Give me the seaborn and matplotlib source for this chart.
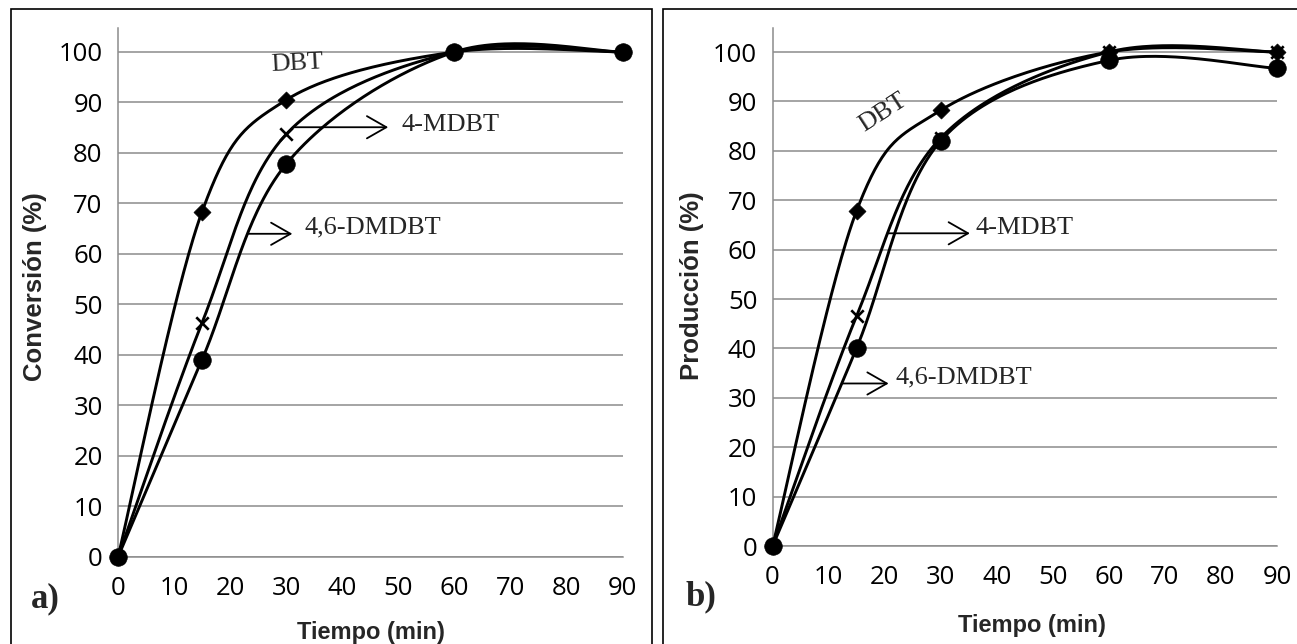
import os
import numpy as np
import pandas as pd
import matplotlib
matplotlib.use("Agg")
import matplotlib.pyplot as plt
from matplotlib import font_manager as fm
from matplotlib.patches import Rectangle
import seaborn as sns

# ---- data -------------------------------------------------------------
tiempo = [0, 15, 30, 60, 90]
series_names = ["DBT", "4-MDBT", "4,6-DMDBT"]

# a) conversion (%)
conv_dbt = [0, 68.4, 90.5, 100, 100]
conv_mdbt = [0, 46.4, 83.7, 100, 100]
conv_dmdbt = [0, 39.1, 77.8, 100, 100]

# b) production (%)
prod_dbt = [0, 67.9, 88.2, 100, 100]
prod_mdbt = [0, 46.6, 82.6, 100, 100]
prod_dmdbt = [0, 40.1, 82.0, 98.3, 96.7]

x_ticks = list(range(0, 91, 10))
y_ticks = list(range(0, 101, 10))

markers = {"DBT": "D", "4-MDBT": "x", "4,6-DMDBT": "o"}
marker_sizes = {"DBT": 75, "4-MDBT": 80, "4,6-DMDBT": 160}

# ---- style ------------------------------------------------------------
sns.set_style("white")
plt.rcParams["font.family"] = ["Open Sans", "DejaVu Sans"]

GRID = "#8c8c8c"
TICK_FS = 18.5
SERIF = ["Liberation Serif", "DejaVu Serif"]


def font_file(filename, fallback_family, weight="normal"):
    for f in fm.findSystemFonts():
        if os.path.basename(f).lower() == filename.lower():
            return fm.FontProperties(fname=f)
    return fm.FontProperties(family=fallback_family, weight=weight)


def bold_sans(size):
    fp = font_file("LiberationSans-Bold.ttf", "DejaVu Sans", "bold").copy()
    fp.set_size(size)
    return fp


def bold_serif(size):
    fp = font_file("LiberationSerif-Bold.ttf", "DejaVu Serif", "bold").copy()
    fp.set_size(size)
    return fp


def smooth_curve(x, y, k=1 / 6, n=60):
    """Piecewise cubic Bezier through the points (spreadsheet-style smoothing)."""
    P = np.column_stack([np.asarray(x, float), np.asarray(y, float)])
    m = len(P)
    t = np.linspace(0, 1, n)[:, None]
    out = []
    for i in range(m - 1):
        p0 = P[i - 1] if i > 0 else P[i]
        p1, p2 = P[i], P[i + 1]
        p3 = P[i + 2] if i + 2 < m else P[i + 1]
        c1 = p1 + (p2 - p0) * k
        c2 = p2 - (p3 - p1) * k
        seg = (1 - t) ** 3 * p1 + 3 * t * (1 - t) ** 2 * c1 + 3 * t ** 2 * (1 - t) * c2 + t ** 3 * p2
        out.append(seg if i == 0 else seg[1:])
    return np.vstack(out)


def draw_panel(ax, values, ylabel, ytop, ylab_xy, xlab_xy, notes):
    rows = []
    pts = []
    for name, vals in zip(series_names, values):
        c = smooth_curve(tiempo, vals)
        rows.append(pd.DataFrame({"t": c[:, 0], "v": c[:, 1], "serie": name}))
        pts.append(pd.DataFrame({"t": tiempo, "v": vals, "serie": name}))
    curves = pd.concat(rows, ignore_index=True)
    points = pd.concat(pts, ignore_index=True)

    for name in series_names:
        sns.lineplot(data=curves[curves["serie"] == name], x="t", y="v", sort=False,
                     color="black", lw=2.1, ax=ax, zorder=3, legend=False)
    for name in series_names:
        sub = points[points["serie"] == name]
        kw = dict(linewidth=1.9) if name == "4-MDBT" else dict(edgecolor="black", linewidth=0.5)
        sns.scatterplot(data=sub, x="t", y="v", marker=markers[name], s=marker_sizes[name],
                        color="black", ax=ax, zorder=4, legend=False, clip_on=False, **kw)

    ax.set_xlim(0, 90)
    ax.set_ylim(0, ytop)
    ax.set_xticks(x_ticks)
    ax.set_yticks(y_ticks)
    ax.grid(axis="y", color=GRID, lw=1.1)
    ax.grid(axis="x", visible=False)
    ax.set_axisbelow(True)
    for s in ["top", "right"]:
        ax.spines[s].set_visible(False)
    for s in ["left", "bottom"]:
        ax.spines[s].set_color(GRID)
        ax.spines[s].set_linewidth(1.1)
    ax.tick_params(axis="both", which="both", direction="out", length=5, width=1.1,
                   color=GRID, labelsize=TICK_FS, labelcolor="black")
    ax.tick_params(axis="x", pad=9)
    ax.tick_params(axis="y", pad=6)

    ax.set_xlabel("Tiempo (min)", fontproperties=bold_sans(17))
    ax.set_ylabel(ylabel, fontproperties=bold_sans(18.5))
    ax.xaxis.label.set_va("center")
    ax.yaxis.label.set_va("center")
    ax.xaxis.set_label_coords(*xlab_xy)
    ax.yaxis.set_label_coords(*ylab_xy)

    for txt, tx, ty, rot, arrow in notes:
        if arrow is None:
            ax.text(tx, ty, txt, family=SERIF, fontsize=19, rotation=rot,
                    ha="center", va="center", zorder=5)
        else:
            (ax0, ay0, ax1) = arrow
            ax.annotate("", xy=(ax1, ay0), xytext=(ax0, ay0),
                        arrowprops=dict(arrowstyle="->,head_length=0.7,head_width=0.4",
                                        lw=1.3, color="black", mutation_scale=20,
                                        shrinkA=0, shrinkB=0), zorder=5)
            ax.text(tx, ty, txt, family=SERIF, fontsize=19, ha="left", va="center", zorder=5)


fig = plt.figure(figsize=(12.97, 6.44), dpi=100)
W, H = 1297, 644

ax_a = fig.add_axes([118 / W, (H - 557) / H, 504.5 / W, 529 / H])
ax_b = fig.add_axes([772.6 / W, (H - 546) / H, 504.4 / W, 518 / H])

draw_panel(ax_a, [conv_dbt, conv_mdbt, conv_dmdbt], "Conversión (%)", 104.75,
           (-0.165, 0.512), (0.5015, -0.142),
           [("DBT", 31.9, 97.6, 3, None),
            ("4-MDBT", 50.5, 85.6, 0, (31.4, 85.1, 48.2)),
            ("4,6-DMDBT", 33.3, 65.2, 0, (23.3, 64.0, 31.1))])

draw_panel(ax_b, [prod_dbt, prod_mdbt, prod_dmdbt], "Producción (%)", 104.86,
           (-0.16, 0.502), (0.514, -0.154),
           [("DBT", 19.7, 87.7, 33, None),
            ("4-MDBT", 36.2, 64.3, 0, (20.5, 63.3, 35.2)),
            ("4,6-DMDBT", 21.9, 34.1, 0, (12.35, 32.9, 20.7))])

# panel tags
fig.text(31 / W, 1 - 599 / H, "a)", fontproperties=bold_serif(25), ha="left", va="center")
fig.text(686 / W, 1 - 597 / H, "b)", fontproperties=bold_serif(25), ha="left", va="center")

# frames around each panel
for x0, x1 in [(11, 652), (663, 1300)]:
    fig.add_artist(Rectangle((x0 / W, -0.02), (x1 - x0) / W, 1.02 - 9 / H,
                             transform=fig.transFigure, fill=False,
                             edgecolor="black", lw=1.2))

fig.savefig("out.png", dpi=100)
